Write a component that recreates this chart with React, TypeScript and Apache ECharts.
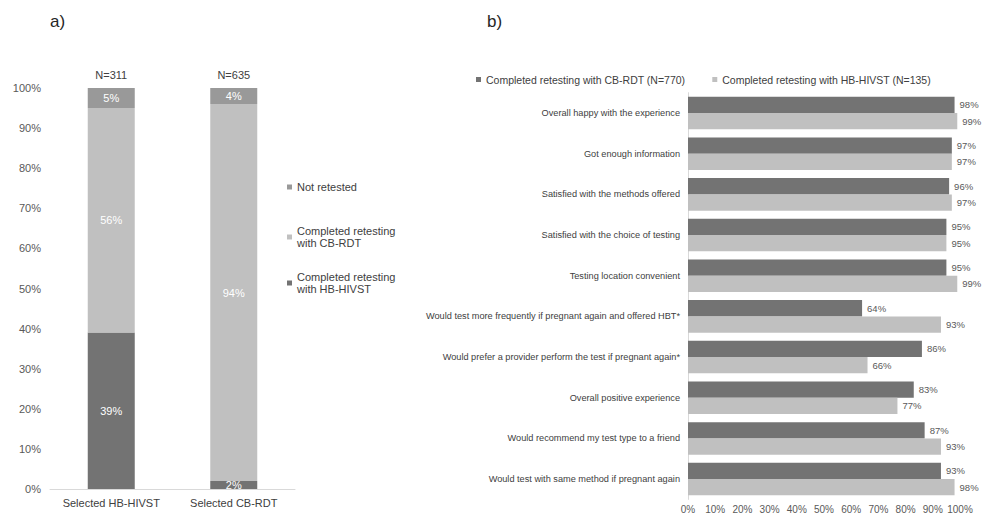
import React, { useEffect, useRef } from "react";
import * as echarts from "echarts";

const leftCategories = ["Selected HB-HIVST", "Selected CB-RDT"];
const leftTopLabels = ["N=311", "N=635"];
const leftHBHIVST = [39, 2];
const leftCBRDT = [56, 94];
const leftNotRetested = [5, 4];

const rightCategories = [
  "Overall happy with the experience",
  "Got enough information",
  "Satisfied with the methods offered",
  "Satisfied with the choice of testing",
  "Testing location convenient",
  "Would test more frequently if pregnant again and offered HBT*",
  "Would prefer a provider perform the test if pregnant again*",
  "Overall positive experience",
  "Would recommend my test type to a friend",
  "Would test with same method if pregnant again",
];
const rightCBRDT = [98, 97, 96, 95, 95, 64, 86, 83, 87, 93];
const rightHBHIVST = [99, 97, 97, 95, 99, 93, 66, 77, 93, 98];

const DARK = "#737373";
const LIGHT = "#c0c0c0";
const MID = "#999999";
const FONT = "Liberation Sans, Arial, sans-serif";
const TXT = "#404040";

export default function App() {
  const ref = useRef<HTMLDivElement>(null);
  useEffect(() => {
    if (!ref.current) return;
    const chart = echarts.init(ref.current, undefined, { renderer: "svg" });
    const leftLegendText = { fontSize: 11, color: TXT, fontFamily: FONT, lineHeight: 12 };
    const multiText = { ...leftLegendText, padding: [12, 0, 0, 0] };
    const option: any = {
      animation: false,
      backgroundColor: "#ffffff",
      textStyle: { fontFamily: FONT },
      title: [
        { text: "a)", left: 45, top: 8, textStyle: { fontSize: 17, fontWeight: "normal", color: "#262626", fontFamily: FONT } },
        { text: "b)", left: 482, top: 8, textStyle: { fontSize: 17, fontWeight: "normal", color: "#262626", fontFamily: FONT } },
      ],
      legend: [
        {
          left: 282, top: 176, itemWidth: 5, itemHeight: 5, icon: "rect",
          data: ["Not retested"], textStyle: leftLegendText, selectedMode: false,
        },
        {
          left: 282, top: 214, itemWidth: 5, itemHeight: 5, icon: "rect",
          data: ["Completed retesting with CB-RDT"], textStyle: multiText, selectedMode: false,
          formatter: (n: string) => n.replace(" with", "\nwith"),
        },
        {
          left: 282, top: 260, itemWidth: 5, itemHeight: 5, icon: "rect",
          data: ["Completed retesting with HB-HIVST"], textStyle: multiText, selectedMode: false,
          formatter: (n: string) => n.replace(" with", "\nwith"),
        },
        {
          left: 471, top: 69, itemWidth: 5, itemHeight: 5, icon: "rect", itemGap: 27,
          data: ["Completed retesting with CB-RDT (N=770)", "Completed retesting with HB-HIVST (N=135)"],
          textStyle: { fontSize: 10.5, color: TXT, fontFamily: FONT }, selectedMode: false,
        },
      ],
      grid: [
        { left: 50, top: 88, width: 245, height: 401, containLabel: false, outerBoundsMode: "none" },
        { left: 688, top: 92.7, width: 272, height: 406.7, containLabel: false, outerBoundsMode: "none" },
      ],
      xAxis: [
        {
          gridIndex: 0, type: "category", data: leftCategories,
          axisLine: { lineStyle: { color: "#d9d9d9" } }, axisTick: { show: false },
          axisLabel: { color: TXT, fontSize: 11, margin: 8, fontFamily: FONT, interval: 0 },
        },
        {
          gridIndex: 0, type: "category", data: leftTopLabels, position: "top",
          axisLine: { show: false }, axisTick: { show: false },
          axisLabel: { color: TXT, fontSize: 11, margin: 8, fontFamily: FONT, interval: 0 },
        },
        {
          gridIndex: 1, type: "value", min: 0, max: 100, interval: 10,
          axisLine: { show: false }, axisTick: { show: false }, splitLine: { show: false },
          axisLabel: { color: "#595959", fontSize: 10, margin: 5, formatter: "{value}%", fontFamily: FONT },
        },
      ],
      yAxis: [
        {
          gridIndex: 0, type: "value", min: 0, max: 100, interval: 10,
          axisLine: { show: false }, axisTick: { show: false }, splitLine: { show: false },
          axisLabel: { color: "#595959", fontSize: 11, margin: 9, formatter: "{value}%", fontFamily: FONT },
        },
        {
          gridIndex: 1, type: "category", data: rightCategories, inverse: true,
          axisLine: { show: true, lineStyle: { color: "#d9d9d9" } }, axisTick: { show: false },
          axisLabel: { color: TXT, fontSize: 9.2, margin: 8, fontFamily: FONT, interval: 0 },
        },
      ],
      series: [
        {
          name: "Completed retesting with HB-HIVST", type: "bar", stack: "left",
          xAxisIndex: 0, yAxisIndex: 0, data: leftHBHIVST, barWidth: 47,
          itemStyle: { color: DARK },
          label: { show: true, position: "inside", color: "#ffffff", fontSize: 11, formatter: "{c}%" },
        },
        {
          name: "Completed retesting with CB-RDT", type: "bar", stack: "left",
          xAxisIndex: 0, yAxisIndex: 0, data: leftCBRDT, barWidth: 47,
          itemStyle: { color: LIGHT },
          label: { show: true, position: "inside", color: "#ffffff", fontSize: 11, formatter: "{c}%" },
        },
        {
          name: "Not retested", type: "bar", stack: "left",
          xAxisIndex: 0, yAxisIndex: 0, data: leftNotRetested, barWidth: 47,
          itemStyle: { color: MID },
          label: { show: true, position: "inside", color: "#ffffff", fontSize: 11, formatter: "{c}%" },
        },
        {
          name: "Completed retesting with CB-RDT (N=770)", type: "bar",
          xAxisIndex: 2, yAxisIndex: 1, data: rightCBRDT,
          barGap: "0%", barCategoryGap: "20%",
          itemStyle: { color: DARK },
          label: { show: true, position: "right", distance: 5, color: "#595959", fontSize: 9.5, formatter: "{c}%" },
        },
        {
          name: "Completed retesting with HB-HIVST (N=135)", type: "bar",
          xAxisIndex: 2, yAxisIndex: 1, data: rightHBHIVST,
          barGap: "0%", barCategoryGap: "20%",
          itemStyle: { color: LIGHT },
          label: { show: true, position: "right", distance: 5, color: "#595959", fontSize: 9.5, formatter: "{c}%" },
        },
      ],
    };
    chart.setOption(option);
    return () => chart.dispose();
  }, []);
  return (
    <div
      ref={ref}
      style={{ position: "fixed", left: 0, top: 0, width: 982, height: 516, background: "#fff" }}
    />
  );
}
